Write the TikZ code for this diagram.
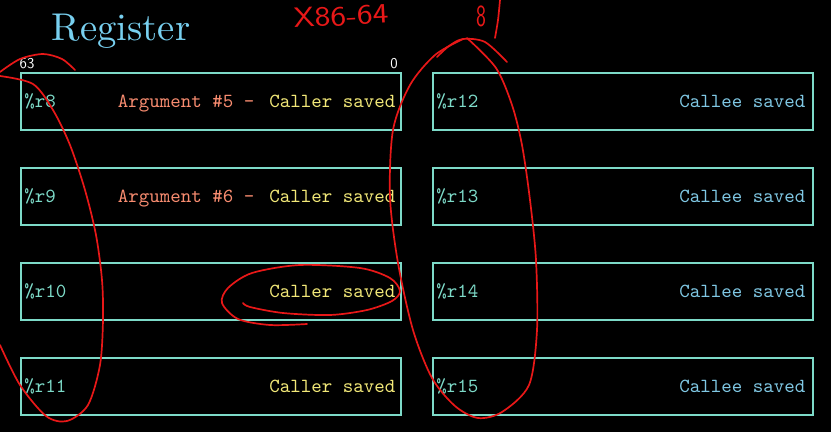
\documentclass[tikz,border=0pt]{standalone}
\usepackage{xcolor}
\definecolor{boxteal}{RGB}{125,218,200}
\definecolor{titleblue}{RGB}{120,208,240}
\definecolor{calleeblue}{RGB}{128,200,228}
\definecolor{calleryel}{RGB}{242,232,120}
\definecolor{argsalmon}{RGB}{248,140,112}
\definecolor{pen}{RGB}{232,24,24}
\begin{document}
\begin{tikzpicture}[x=1pt,y=-1pt,
  regbox/.style={draw=boxteal, line width=1.8pt, minimum width=380pt, minimum height=57pt, inner sep=0pt, anchor=north west},
  monotext/.style={font=\fontsize{10}{12}\selectfont\ttfamily, scale=2.0, inner sep=0pt},
  regname/.style={monotext, text=boxteal, anchor=base west},
  regnote/.style={monotext, anchor=base east},
  bitlabel/.style={font=\fontsize{15}{18}\selectfont\sffamily, text=white, inner sep=0pt, anchor=base},
  penline/.style={draw=pen, line width=1.7pt, line cap=round, line join=round},
  pentext/.style={text=pen, inner sep=0pt, font=\fontsize{28}{32}\selectfont\sffamily}]
\fill[black] (0,0) rectangle (831,432);
\useasboundingbox (0,0) rectangle (831,432);

% title
\node[text=titleblue, font=\fontsize{10}{12}\selectfont, scale=3.87, inner sep=0pt, anchor=base west] (title) at (51,40) {Register};

% bit labels
\node[bitlabel] (b63) at (27,68) {63};
\node[bitlabel] (b0) at (394,68) {0};

% left column
\node[regbox] (r8)  at (20,72)  {};
\node[regbox] (r9)  at (20,167) {};
\node[regbox] (r10) at (20,262) {};
\node[regbox] (r11) at (20,357) {};
% right column
\node[regbox] (r12) at (432,72)  {};
\node[regbox] (r13) at (432,167) {};
\node[regbox] (r14) at (432,262) {};
\node[regbox] (r15) at (432,357) {};

\foreach \r in {8,9,10,11,12,13,14,15}{
  \node[regname] (n\r) at ([xshift=4pt,yshift=-6.5pt]r\r.west) {\%r\r};
}
\node[regnote] (t8)  at ([xshift=-6pt,yshift=-6.5pt]r8.east)  {\textcolor{argsalmon}{Argument \#5 -}\hspace{7.5pt}\textcolor{calleryel}{Caller saved}};
\node[regnote] (t9)  at ([xshift=-6pt,yshift=-6.5pt]r9.east)  {\textcolor{argsalmon}{Argument \#6 -}\hspace{7.5pt}\textcolor{calleryel}{Caller saved}};
\node[regnote, text=calleryel] (t10) at ([xshift=-6pt,yshift=-6.5pt]r10.east) {Caller saved};
\node[regnote, text=calleryel] (t11) at ([xshift=-6pt,yshift=-6.5pt]r11.east) {Caller saved};
\foreach \r in {12,13,14,15}{
  \node[regnote, text=calleeblue] (t\r) at ([xshift=-8pt,yshift=-6.5pt]r\r.east) {Callee saved};
}

% handwritten annotations
\node[pentext, rotate=3, anchor=base west, xscale=1.2] (hx) at (294,28) {X86-64};
\node[pentext, anchor=base west, xscale=0.75, yscale=1.1] (h8) at (476,26) {8};
\draw[penline] plot[smooth] coordinates {(500,0) (498,20) (495,38)};

% left loop
\draw[penline] plot[smooth] coordinates {(0,72) (20,59) (43,54) (62,59) (75,70)};
\draw[penline] plot[smooth] coordinates {(0,76) (33,84) (53,110) (70,145) (85,190) (96,235) (102,280) (103,320) (100,365) (88,405) (67,421) (46,416) (20,385) (0,345)};

% right loop
\draw[penline] plot[smooth] coordinates {(437,57) (449,46) (463,39) (485,42) (507,62)};
\draw[penline] plot[smooth] coordinates {(467,38) (496,68) (512,105) (522,145) (530,200) (536,260) (537,330) (529,385) (502,412) (478,418) (455,406) (432,378) (413,330) (398,263) (390,197) (393,130) (410,85) (435,55) (463,39)};

% small loop round r10 note
\draw[penline] plot[smooth] coordinates {(243,303) (250,307) (283,313) (330,315) (367,310) (392,301) (400,291) (390,278) (360,268) (300,265) (252,273) (228,288) (222,303) (238,319) (270,325) (307,324)};
\end{tikzpicture}
\end{document}
